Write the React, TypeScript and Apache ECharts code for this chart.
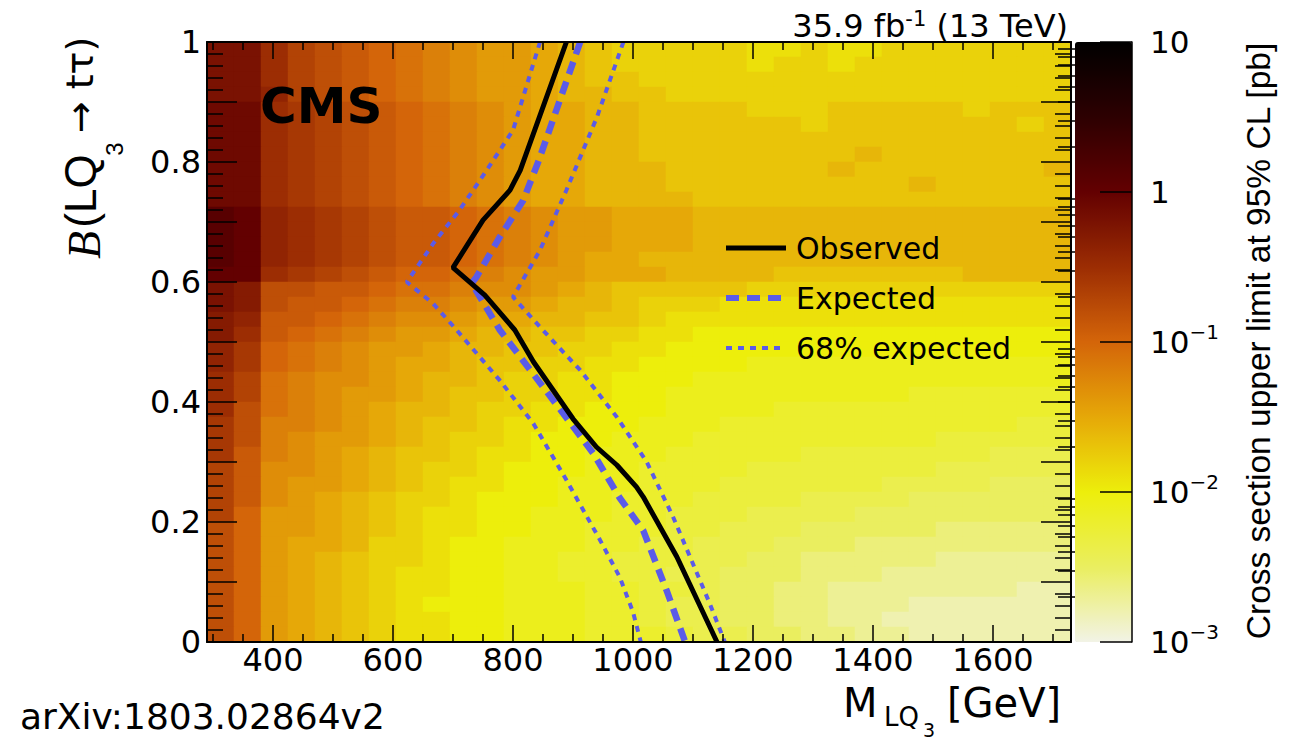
import { useEffect, useRef } from 'react';
import * as echarts from 'echarts';

// ---------------- data ----------------
// mass bin centres [GeV] (45 GeV wide bins, 290 - 1730 GeV)
const massBinCenters = [
  312.5, 357.5, 402.5, 447.5, 492.5, 537.5, 582.5, 627.5, 672.5, 717.5, 762.5,
  807.5, 852.5, 897.5, 942.5, 987.5, 1032.5, 1077.5, 1122.5, 1167.5, 1212.5,
  1257.5, 1302.5, 1347.5, 1392.5, 1437.5, 1482.5, 1527.5, 1572.5, 1617.5,
  1662.5, 1707.5,
];
// branching-fraction bin centres (0.025 wide bins, 0 - 1)
const brBinCenters = [
  0.0125, 0.0375, 0.0625, 0.0875, 0.1125, 0.1375, 0.1625, 0.1875, 0.2125,
  0.2375, 0.2625, 0.2875, 0.3125, 0.3375, 0.3625, 0.3875, 0.4125, 0.4375,
  0.4625, 0.4875, 0.5125, 0.5375, 0.5625, 0.5875, 0.6125, 0.6375, 0.6625,
  0.6875, 0.7125, 0.7375, 0.7625, 0.7875, 0.8125, 0.8375, 0.8625, 0.8875,
  0.9125, 0.9375, 0.9625, 0.9875,
];
// Upper limit, log10(sigma / pb).
// Code character index k in LEVEL_CODES means log10 = -3 + 0.1 k.
// Rows listed from B = 1 (top) down to B = 0 (bottom), one char per mass bin.
const LEVEL_CODES = '0123456789abcdefghijklmnopqrstuvwxyz';
const limitRowsTopDown = [
  'sspnmlkjihggfedcccccbbcbbccccccc',
  'sspnmlkjihggfedcccccbccbcccccccc',
  'sspnmlkjihggfeddcccccccccccccccc',
  'ssqnmlkjihggfeeddccccccccccccccc',
  'ttponmlkjihgffeeddddcccdddddcddd',
  'ttponmlkjihgffeeddddddcdddddddcd',
  'ttponmlkjihgffeedddddddddddddddd',
  'ttponmlkjihgffeeddddddddeddddddd',
  'ttponmlkjihgffeeeddddddeddddddde',
  'ttponmlkjihgffeeedddddddddeddddd',
  'ttponmlkjihgffeeeedddddddddddddd',
  'vuqponmllkjihggfffeeeeeeeeeeeeee',
  'vuqponmllkjihggfffeeeeeeeeeeeeee',
  'vuqponmllkjihggfffeeeeeeeeeeeeee',
  'vuqponmllkjihgffeeeeeeeeeeeeeeee',
  'uuponmlkkjihggfffeeeedddddddeeee',
  'srmmllkjjihhgfedddddcccccccccccc',
  'srmllkjiihggfeedcccbbbbbbbbbbbbb',
  'rqllkjihhgffeeddcbbbbbbbbbbbbbbb',
  'rplkjihggfeeddccbbaaaaaaaaaaaaaa',
  'qokjihggfeeddccbbaaaaaaaaaaaaaaa',
  'qokjihgffeddccbbaaaa999999999999',
  'pnjihhgfeedccbbaaa99999999999999',
  'pnjihggfeddccbbaa999999999888888',
  'pmjihgfeedccbbaaa999988888888888',
  'omiihgfeddcbbaaa9998888888888877',
  'omihggfedccbaaa99988888888877777',
  'olihgfeddcbbaa999888887777777666',
  'nlhhgfedccbaaa998888777777766666',
  'nlhggfedcbbaa9998887777776666555',
  'nlhgfedccbaaa9988877776666555555',
  'nkggfedcbbaa99988777666655555555',
  'mkggfedcbbaa99888776665555544444',
  'mkgffeccbaa999887766655544444444',
  'mkgfedccbaa998877766554444433333',
  'mkgfedcbbaa998877665554443333333',
  'mkgfedcbbaa999887765544333333322',
  'mkgfedcbaaa999887665544333222222',
  'mkgfedcbbaa999887665544332222222',
  'mkgfedcbbaa999888766554433222222',
];

// exclusion contours: [M_LQ3 (GeV), B]
const observedLimit = [
  [889, 1.0], [812, 0.786], [795, 0.753], [750, 0.703], [700, 0.624],
  [753, 0.578], [803, 0.52], [834, 0.467], [900, 0.372], [939, 0.325],
  [973, 0.295], [1006, 0.258], [1017, 0.242], [1073, 0.142], [1140, 0.0],
];
const expectedLimit = [
  [912, 1.0], [842, 0.8], [817, 0.736], [778, 0.675], [739, 0.608],
  [731, 0.598], [778, 0.52], [867, 0.403], [934, 0.314], [978, 0.24],
  [1017, 0.186], [1056, 0.086], [1087, 0.0],
];
const expected68Low = [
  [845, 1.0], [800, 0.853], [756, 0.786], [711, 0.72], [667, 0.664],
  [623, 0.6], [667, 0.564], [706, 0.52], [778, 0.436], [834, 0.364],
  [889, 0.27], [945, 0.17], [978, 0.108], [1000, 0.05], [1013, 0.0],
];
const expected68High = [
  [984, 1.0], [940, 0.875], [889, 0.753], [845, 0.653], [800, 0.575],
  [845, 0.525], [912, 0.453], [973, 0.375], [1023, 0.3], [1067, 0.208],
  [1095, 0.142], [1128, 0.064], [1153, 0.0],
];

// tick values
const xMajorTicks = [400, 600, 800, 1000, 1200, 1400, 1600];
const xMinorTicks = [
  300, 350, 450, 500, 550, 650, 700, 750, 850, 900, 950, 1050, 1100, 1150,
  1250, 1300, 1350, 1450, 1500, 1550, 1650, 1700,
];
const zMinorTickValues = [
  0.002, 0.003, 0.004, 0.005, 0.006, 0.007, 0.008, 0.009,
  0.02, 0.03, 0.04, 0.05, 0.06, 0.07, 0.08, 0.09,
  0.2, 0.3, 0.4, 0.5, 0.6, 0.7, 0.8, 0.9,
  2, 3, 4, 5, 6, 7, 8, 9,
];
const paletteStops = [
  '#f2f3e6', '#eaee5f', '#edee0b', '#e6a808', '#d46509',
  '#9c2d03', '#630001', '#2d0001', '#000000',
];

// ---------------- chart ----------------
const FONT = '"DejaVu Sans", sans-serif';
const ARIAL = '"Liberation Sans", Arial, sans-serif';
const BLUE = '#5b5be8';
const TICK = { color: '#000', width: 1.5 };

function buildOption() {
  const heatData: number[][] = [];
  limitRowsTopDown.forEach((row, i) => {
    const yIdx = brBinCenters.length - 1 - i;
    for (let c = 0; c < row.length; c++) {
      const k = LEVEL_CODES.indexOf(row[c]);
      heatData.push([c, yIdx, Math.round((-3 + 0.1 * k) * 100) / 100]);
    }
  });

  const valueX = (position: string, major: boolean, withLabel: boolean) => ({
    type: 'value',
    gridIndex: 0,
    position,
    min: 290,
    max: 1730,
    z: 5,
    axisLine: { show: major, onZero: false, lineStyle: { color: '#000', width: 2 } },
    axisTick: {
      show: true,
      inside: true,
      length: major ? 17 : 8,
      customValues: major ? xMajorTicks : xMinorTicks,
      lineStyle: TICK,
    },
    axisLabel: withLabel
      ? {
          customValues: xMajorTicks,
          fontSize: 32,
          fontFamily: FONT,
          color: '#000',
          margin: 2,
          formatter: (v: number) => String(v),
        }
      : { show: false },
    splitLine: { show: false },
  });

  const valueY = (position: string, withLabel: boolean) => ({
    type: 'value',
    gridIndex: 0,
    position,
    min: 0,
    max: 1,
    interval: 0.1,
    z: 5,
    axisLine: { show: true, onZero: false, lineStyle: { color: '#000', width: 2 } },
    axisTick: { show: true, inside: true, length: 30, lineStyle: TICK },
    minorTick: { show: true, splitNumber: 5, length: 16, lineStyle: TICK },
    axisLabel: withLabel
      ? {
          fontSize: 32,
          fontFamily: FONT,
          color: '#000',
          margin: 6,
          formatter: (v: number) =>
            Math.round(v * 10) % 2 === 0 ? String(+v.toFixed(1)) : '',
        }
      : { show: false },
    splitLine: { show: false },
    minorSplitLine: { show: false },
  });

  const zMinorLog = zMinorTickValues.map((v) => Math.log10(v));

  return {
    animation: false,
    backgroundColor: '#ffffff',
    textStyle: { fontFamily: FONT },
    grid: [
      { left: 207, top: 42, width: 864, height: 600 },
      { left: 1075, top: 42, width: 57, height: 600 },
    ],
    xAxis: [
      {
        type: 'category',
        gridIndex: 0,
        position: 'bottom',
        data: massBinCenters.map(String),
        show: false,
      },
      valueX('bottom', true, true),
      valueX('bottom', false, false),
      valueX('top', true, false),
      valueX('top', false, false),
      { type: 'value', gridIndex: 1, show: false, min: 0, max: 1 },
    ],
    yAxis: [
      {
        type: 'category',
        gridIndex: 0,
        position: 'left',
        data: brBinCenters.map(String),
        show: false,
      },
      valueY('left', true),
      valueY('right', false),
      {
        type: 'value',
        gridIndex: 1,
        position: 'right',
        min: -3,
        max: 1,
        interval: 1,
        z: 5,
        axisLine: { show: true, onZero: false, lineStyle: { color: '#000', width: 1.5 } },
        axisTick: { show: true, inside: true, length: 32, lineStyle: TICK },
        axisLabel: {
          margin: 18,
          fontSize: 31,
          lineHeight: 40,
          fontFamily: FONT,
          color: '#000',
          formatter: (v: number) =>
            v === 1 ? '10' : v === 0 ? '1' : '10{s|\u2212' + -v + '}',
          rich: {
            s: { fontSize: 20, lineHeight: 20, verticalAlign: 'top', fontFamily: FONT, color: '#000' },
          },
        },
        splitLine: { show: false },
      },
      {
        type: 'value',
        gridIndex: 1,
        position: 'right',
        min: -3,
        max: 1,
        z: 5,
        axisLine: { show: false },
        axisTick: { show: true, inside: true, length: 17, customValues: zMinorLog, lineStyle: TICK },
        axisLabel: { show: false },
        splitLine: { show: false },
      },
    ],
    visualMap: {
      type: 'continuous',
      seriesIndex: 0,
      dimension: 2,
      min: -3,
      max: 1,
      orient: 'vertical',
      left: 1075,
      top: 42,
      itemWidth: 57,
      itemHeight: 600,
      padding: 0,
      calculable: false,
      hoverLink: false,
      text: null,
      inRange: { color: paletteStops },
    },
    legend: {
      orient: 'vertical',
      left: 723,
      top: 233,
      padding: 0,
      itemWidth: 60,
      itemHeight: 30,
      itemGap: 20,
      selectedMode: false,
      itemStyle: { opacity: 0 },
      textStyle: { fontSize: 30, fontFamily: FONT, color: '#000', padding: [0, 0, 0, 5] },
      data: [
        { name: 'Observed', lineStyle: { width: 5 } },
        { name: 'Expected', lineStyle: { width: 6 } },
        { name: '68% expected', lineStyle: { width: 4 } },
      ],
    },
    series: [
      {
        type: 'heatmap',
        xAxisIndex: 0,
        yAxisIndex: 0,
        data: heatData,
        silent: true,
        z: 1,
        emphasis: { disabled: true },
      },
      {
        type: 'line',
        name: '68% expected',
        xAxisIndex: 1,
        yAxisIndex: 1,
        data: expected68Low,
        symbol: 'none',
        silent: true,
        z: 3,
        lineStyle: { color: BLUE, width: 4, type: [6, 6] },
      },
      {
        type: 'line',
        name: '68% expected',
        xAxisIndex: 1,
        yAxisIndex: 1,
        data: expected68High,
        symbol: 'none',
        silent: true,
        z: 3,
        lineStyle: { color: BLUE, width: 4, type: [6, 6] },
      },
      {
        type: 'line',
        name: 'Expected',
        xAxisIndex: 1,
        yAxisIndex: 1,
        data: expectedLimit,
        symbol: 'none',
        silent: true,
        z: 3,
        lineStyle: { color: BLUE, width: 6.5, type: [13, 8] },
      },
      {
        type: 'line',
        name: 'Observed',
        xAxisIndex: 1,
        yAxisIndex: 1,
        data: observedLimit,
        symbol: 'none',
        silent: true,
        z: 4,
        lineStyle: { color: '#000', width: 5 },
      },
    ],
    graphic: [
      {
        type: 'text', x: 260, y: 106, z: 20, silent: true,
        style: { text: 'CMS', fontSize: 50, fontWeight: 'bold', fontFamily: FONT, fill: '#000', align: 'left', verticalAlign: 'middle' },
      },
      {
        type: 'text', x: 1068, y: 26, z: 20, silent: true,
        style: {
          text: '{a|35.9 fb}{s|-1}{a| (13 TeV)}',
          align: 'right',
          verticalAlign: 'middle',
          fill: '#000',
          rich: {
            a: { fontSize: 32, lineHeight: 36, fontFamily: FONT, fill: '#000', color: '#000' },
            s: { fontSize: 21, lineHeight: 21, fontFamily: FONT, verticalAlign: 'top', fill: '#000', color: '#000' },
          },
        },
      },
      // x-axis title
      {
        type: 'text', x: 843, y: 703, z: 20, silent: true,
        style: { text: 'M', fontSize: 40, lineHeight: 32, fontFamily: FONT, fill: '#000', align: 'left', verticalAlign: 'middle' },
      },
      {
        type: 'text', x: 884, y: 717, z: 20, silent: true,
        style: { text: 'LQ', fontSize: 26, lineHeight: 22, fontFamily: FONT, fill: '#000', align: 'left', verticalAlign: 'middle' },
      },
      {
        type: 'text', x: 923, y: 730, z: 20, silent: true,
        style: { text: '3', fontSize: 19, lineHeight: 16, fontFamily: FONT, fill: '#000', align: 'left', verticalAlign: 'middle' },
      },
      {
        type: 'text', x: 947, y: 703, z: 20, silent: true,
        style: { text: '[GeV]', fontSize: 40, lineHeight: 32, fontFamily: FONT, fill: '#000', align: 'left', verticalAlign: 'middle' },
      },
      // y-axis title (rotated)
      {
        type: 'text', x: 84, y: 245, rotation: Math.PI / 2, z: 20, silent: true,
        style: { text: 'B', fontSize: 46, fontStyle: 'italic', fontFamily: '"Liberation Serif", serif', fill: '#000', align: 'center', verticalAlign: 'middle' },
      },
      {
        type: 'text', x: 80, y: 191, rotation: Math.PI / 2, z: 20, silent: true,
        style: { text: '(LQ', fontSize: 44, fontFamily: ARIAL, fill: '#000', align: 'center', verticalAlign: 'middle' },
      },
      {
        type: 'text', x: 114, y: 149, rotation: Math.PI / 2, z: 20, silent: true,
        style: { text: '3', fontSize: 24, fontFamily: ARIAL, fill: '#000', align: 'center', verticalAlign: 'middle' },
      },
      {
        type: 'text', x: 80, y: 85, rotation: Math.PI / 2, z: 20, silent: true,
        style: { text: '\u2192 t\u03c4)', fontSize: 38, fontFamily: FONT, fill: '#000', align: 'center', verticalAlign: 'middle' },
      },
      // colour-bar title
      {
        type: 'text', x: 1258, y: 341, rotation: Math.PI / 2, z: 20, silent: true,
        style: { text: 'Cross section upper limit at 95% CL [pb]', fontSize: 33.5, fontFamily: ARIAL, fill: '#000', align: 'center', verticalAlign: 'middle' },
      },
      // reference
      {
        type: 'text', x: 20, y: 716, z: 20, silent: true,
        style: { text: 'arXiv:1803.02864v2', fontSize: 36, lineHeight: 36, fontFamily: FONT, fill: '#000', align: 'left', verticalAlign: 'middle' },
      },
    ],
  };
}

export default function App() {
  const ref = useRef<HTMLDivElement>(null);
  useEffect(() => {
    if (!ref.current) return;
    const chart = echarts.init(ref.current, null, { renderer: 'svg' });
    chart.setOption(buildOption() as any);
    return () => chart.dispose();
  }, []);
  return (
    <div
      ref={ref}
      style={{ position: 'absolute', left: 0, top: 0, width: 1291, height: 740, background: '#fff' }}
    />
  );
}
